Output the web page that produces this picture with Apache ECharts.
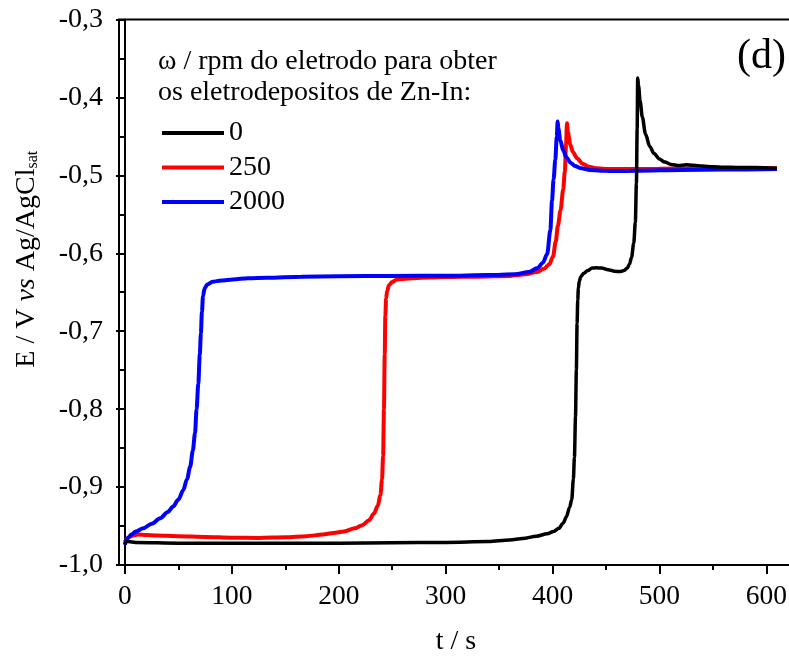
<!DOCTYPE html>
<html>
<head>
<meta charset="utf-8">
<script src="https://cdn.jsdelivr.net/npm/echarts@6/dist/echarts.min.js"></script>
<style>
  html, body { margin: 0; padding: 0; background: #fff; }
  #chart { width: 789px; height: 657px; }
</style>
</head>
<body>
<div id="chart"></div>
<script>
// Chronopotentiometric stripping curves, E vs t, for Zn-In deposits
const seriesNames = ['0', '250', '2000'];
const xMajorTicks = [0, 100, 200, 300, 400, 500, 600];
const xMinorTicks = [50, 150, 250, 350, 450, 550];

// 0 rpm
const tBlack = [0, 1, 3, 10, 50, 100, 150, 200, 250, 300, 340, 360, 372, 385, 395, 401, 406, 410, 413, 416, 418, 419.5, 420.5, 421.5, 422.3, 423, 423.6, 424.2, 425, 426.5, 429, 433, 437, 441, 446, 452, 458, 463, 467, 470, 472, 474, 476, 477.5, 478.5, 479.2, 479.7, 480.5, 482, 484, 487, 491, 495, 500, 505, 511, 518, 525, 532, 540, 550, 560, 575, 590, 610];
const eBlack = [-0.973, -0.970, -0.970, -0.971, -0.972, -0.972, -0.972, -0.972, -0.9715, -0.971, -0.970, -0.968, -0.966, -0.963, -0.960, -0.957, -0.953, -0.946, -0.938, -0.926, -0.916, -0.890, -0.862, -0.810, -0.750, -0.690, -0.660, -0.645, -0.636, -0.630, -0.626, -0.622, -0.619, -0.6185, -0.619, -0.621, -0.623, -0.6235, -0.622, -0.619, -0.614, -0.605, -0.587, -0.560, -0.510, -0.440, -0.375, -0.385, -0.405, -0.425, -0.447, -0.463, -0.472, -0.479, -0.483, -0.486, -0.4875, -0.4865, -0.487, -0.488, -0.489, -0.4895, -0.490, -0.490, -0.491];

// 250 rpm
const tRed = [0, 2, 5, 8, 12, 20, 30, 50, 75, 100, 125, 150, 170, 185, 195, 205, 215, 222, 228, 233, 236.5, 239, 240.5, 241.5, 242.3, 243, 243.6, 244.3, 245.3, 247, 250, 254, 260, 270, 285, 300, 330, 360, 375, 385, 392, 397, 400.5, 403, 405, 407.5, 410, 411.5, 412.7, 413.5, 414.5, 416.5, 419, 423, 428, 434, 442, 452, 470, 500, 540, 580, 610];
const eRed = [-0.970, -0.966, -0.963, -0.962, -0.961, -0.9615, -0.962, -0.963, -0.964, -0.965, -0.9652, -0.9645, -0.963, -0.961, -0.959, -0.957, -0.953, -0.949, -0.943, -0.934, -0.924, -0.910, -0.890, -0.860, -0.800, -0.730, -0.680, -0.658, -0.648, -0.641, -0.637, -0.634, -0.633, -0.632, -0.631, -0.6305, -0.630, -0.629, -0.627, -0.624, -0.620, -0.614, -0.604, -0.585, -0.565, -0.545, -0.518, -0.495, -0.460, -0.433, -0.445, -0.460, -0.470, -0.478, -0.485, -0.489, -0.491, -0.492, -0.492, -0.4915, -0.491, -0.491, -0.491];

// 2000 rpm
const tBlue = [0, 1, 3, 6, 10, 17, 25, 33, 40, 45, 50, 54.5, 58, 61, 63.5, 65.5, 67, 68.6, 70, 71, 72, 73, 74.5, 77, 82, 90, 101, 115, 133, 165, 200, 250, 300, 340, 365, 378, 386, 391, 395, 398, 399.5, 401, 402.6, 404, 404.8, 405.5, 407.3, 410, 413, 417, 421, 427, 435, 445, 455, 480, 520, 560, 610];
const eBlue = [-0.974, -0.968, -0.965, -0.961, -0.957, -0.953, -0.947, -0.940, -0.932, -0.925, -0.916, -0.904, -0.890, -0.874, -0.853, -0.831, -0.800, -0.767, -0.730, -0.703, -0.675, -0.655, -0.645, -0.640, -0.6365, -0.635, -0.6335, -0.632, -0.6315, -0.630, -0.6295, -0.629, -0.6288, -0.628, -0.627, -0.624, -0.619, -0.612, -0.601, -0.570, -0.533, -0.505, -0.480, -0.450, -0.431, -0.440, -0.455, -0.468, -0.477, -0.484, -0.488, -0.491, -0.493, -0.494, -0.4945, -0.494, -0.493, -0.4925, -0.492];

const zip = (ts, es) => ts.map((t, i) => [t, es[i]]);
const FONT = '"Liberation Serif", "Times New Roman", serif';
const FS = 28;

const chart = echarts.init(document.getElementById('chart'), null, { renderer: 'canvas' });

const lineSeries = (name, ts, es, color, width, z) => ({
  name: name,
  type: 'line',
  data: zip(ts, es),
  showSymbol: false,
  smooth: 0.3,
  smoothMonotone: 'x',
  lineStyle: { color: color, width: width },
  itemStyle: { color: color },
  z: z,
  animation: false
});

chart.setOption({
  animation: false,
  backgroundColor: '#fff',
  grid: {
    left: 119, right: -4, top: 19.5, bottom: 92,
    outerBoundsMode: 'none',
    containLabel: false,
    show: true, borderColor: '#000', borderWidth: 2, backgroundColor: 'transparent'
  },
  title: {
    text: 'ω / rpm do eletrodo para obter\nos eletrodepositos de Zn-In:',
    left: 153, top: 41,
    textStyle: { fontFamily: FONT, fontSize: FS, fontWeight: 'normal', color: '#000', lineHeight: 31 }
  },
  legend: {
    data: seriesNames,
    orient: 'vertical',
    left: 157, top: 114,
    icon: 'rect',
    itemWidth: 62, itemHeight: 4,
    itemGap: 6.5,
    textStyle: { fontFamily: FONT, fontSize: FS, color: '#000', lineHeight: 28 }
  },
  graphic: [{
    type: 'text',
    left: 737, top: 36,
    style: { text: '(d)', font: '42px ' + FONT, fill: '#000' }
  }],
  xAxis: [{
    type: 'value', min: -5.6, max: 625,
    position: 'bottom',
    axisLine: { show: true, lineStyle: { color: '#000', width: 2 } },
    axisTick: { show: true, inside: false, length: 9, customValues: xMajorTicks, lineStyle: { color: '#000', width: 2 } },
    axisLabel: { customValues: xMajorTicks, margin: 18, fontFamily: FONT, fontSize: 27.5, color: '#000' },
    splitLine: { show: false },
    name: 't / s', nameLocation: 'middle', nameGap: 63,
    nameTextStyle: { fontFamily: FONT, fontSize: FS, color: '#000' }
  }, {
    type: 'value', min: -5.6, max: 625,
    position: 'bottom',
    axisLine: { show: false },
    axisTick: { show: true, inside: false, length: 5, customValues: xMinorTicks, lineStyle: { color: '#000', width: 2 } },
    axisLabel: { show: false },
    splitLine: { show: false }
  }],
  yAxis: {
    type: 'value', min: -1.0, max: -0.3, interval: 0.1,
    axisLine: { show: true, lineStyle: { color: '#000', width: 2 } },
    axisTick: { show: true, inside: false, length: 9, lineStyle: { color: '#000', width: 2 } },
    minorTick: { show: true, splitNumber: 2, length: 5, lineStyle: { color: '#000', width: 2 } },
    axisLabel: {
      margin: 16, fontFamily: FONT, fontSize: FS, color: '#000',
      formatter: v => v.toFixed(1).replace('.', ',')
    },
    splitLine: { show: false },
    name: '{a|E / V }{i|vs}{a| Ag/AgCl}{s|sat}',
    nameLocation: 'middle', nameGap: 78,
    nameTextStyle: {
      fontFamily: FONT, fontSize: FS, color: '#000',
      padding: [0, 0, 0, 66],
      rich: {
        a: { fontFamily: FONT, fontSize: FS, color: '#000' },
        i: { fontFamily: FONT, fontSize: FS, color: '#000', fontStyle: 'italic' },
        s: { fontFamily: FONT, fontSize: 16, color: '#000', verticalAlign: 'bottom', padding: [12, 0, 0, 0] }
      }
    }
  },
  series: [
    lineSeries('0', tBlack, eBlack, '#000000', 3.5, 4),
    lineSeries('250', tRed, eRed, '#ff0000', 4, 2),
    lineSeries('2000', tBlue, eBlue, '#0000ff', 4, 3)
  ]
});
</script>
</body>
</html>
